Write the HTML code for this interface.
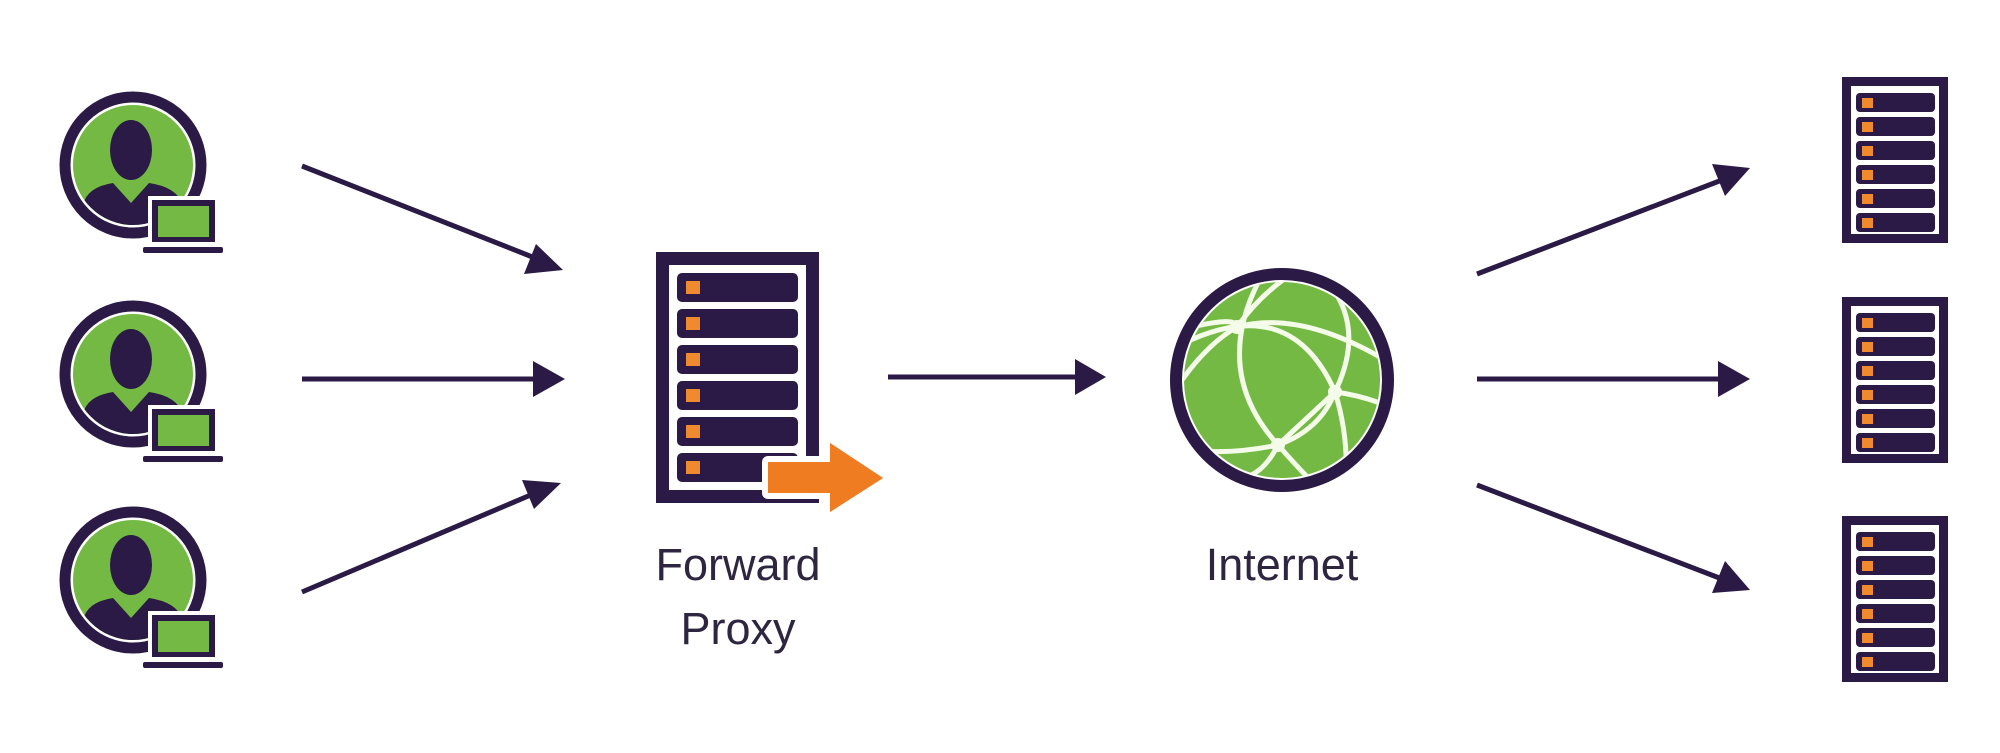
<!DOCTYPE html>
<html><head><meta charset="utf-8"><style>
html,body{margin:0;padding:0;background:#fff;}
svg{display:block;}
text{font-family:"Liberation Sans",sans-serif;fill:#2e2640;}
</style></head><body>
<svg width="2000" height="753" viewBox="0 0 2000 753" xmlns="http://www.w3.org/2000/svg">
<defs>
  <clipPath id="uc"><circle cx="0" cy="0" r="60"/></clipPath>
  <g id="user">
    <circle cx="0" cy="0" r="68" fill="none" stroke="#2a1a45" stroke-width="11"/>
    <circle cx="0" cy="0" r="60" fill="#74b944"/>
    <g clip-path="url(#uc)">
      <path d="M-50,70 L-50,40 Q-46,22 -20,18 L-2,38 L16,18 Q44,22 50,40 L50,70 Z" fill="#2a1a45"/>
    </g>
    <ellipse cx="-2" cy="-15" rx="21" ry="30" fill="#2a1a45"/>
    <rect x="15" y="31" width="71" height="50" fill="#fff"/>
    <rect x="19" y="35" width="63" height="42" fill="#2a1a45"/>
    <rect x="25" y="41" width="51" height="31" fill="#74b944"/>
    <rect x="6" y="79" width="88" height="12" fill="#fff"/>
    <rect x="10" y="82" width="80" height="6" rx="2" fill="#2a1a45"/>
  </g>
  <g id="srv">
    <rect x="0" y="0" width="106" height="166" fill="#2a1a45"/>
    <rect x="9" y="9" width="88" height="148" fill="#fff"/>
    <g fill="#2a1a45">
      <rect x="14" y="16" width="79" height="19" rx="4"/>
      <rect x="14" y="40" width="79" height="19" rx="4"/>
      <rect x="14" y="64" width="79" height="19" rx="4"/>
      <rect x="14" y="88" width="79" height="19" rx="4"/>
      <rect x="14" y="112" width="79" height="19" rx="4"/>
      <rect x="14" y="136" width="79" height="19" rx="4"/>
    </g>
    <g fill="#f08a2e">
      <rect x="20" y="21" width="11" height="10"/>
      <rect x="20" y="45" width="11" height="10"/>
      <rect x="20" y="69" width="11" height="10"/>
      <rect x="20" y="93" width="11" height="10"/>
      <rect x="20" y="117" width="11" height="10"/>
      <rect x="20" y="141" width="11" height="10"/>
    </g>
  </g>
  <clipPath id="gc"><circle cx="1282" cy="380" r="98"/></clipPath>
</defs>

<!-- users -->
<use href="#user" x="133" y="165"/>
<use href="#user" x="133" y="374"/>
<use href="#user" x="133" y="580"/>

<!-- arrows -->
<g stroke="#2a1a45" stroke-width="5" fill="#2a1a45">
  <line x1="302" y1="166" x2="535" y2="258"/>
  <polygon points="563,270 524,274 536,244" stroke="none"/>
  <line x1="302" y1="379" x2="535" y2="379"/>
  <polygon points="565,379 533,361 533,397" stroke="none"/>
  <line x1="302" y1="592" x2="533" y2="494"/>
  <polygon points="561,483 534,509 522,480" stroke="none"/>

  <line x1="888" y1="377" x2="1078" y2="377"/>
  <polygon points="1106,377 1075,359 1075,395" stroke="none"/>

  <line x1="1477" y1="274" x2="1722" y2="180"/>
  <polygon points="1750,168 1725,196 1712,164" stroke="none"/>
  <line x1="1477" y1="379" x2="1720" y2="379"/>
  <polygon points="1750,379 1718,361 1718,397" stroke="none"/>
  <line x1="1477" y1="485" x2="1722" y2="579"/>
  <polygon points="1750,590 1712,593 1725,561" stroke="none"/>
</g>

<!-- proxy server -->
<rect x="656" y="252" width="163" height="251" fill="#2a1a45"/>
<rect x="669" y="265" width="137" height="225" fill="#fff"/>
<g fill="#2a1a45">
  <rect x="677" y="273" width="121" height="29" rx="5"/>
  <rect x="677" y="309" width="121" height="29" rx="5"/>
  <rect x="677" y="345" width="121" height="29" rx="5"/>
  <rect x="677" y="381" width="121" height="29" rx="5"/>
  <rect x="677" y="417" width="121" height="29" rx="5"/>
  <rect x="677" y="453" width="121" height="29" rx="5"/>
</g>
<g fill="#f08a2e">
  <rect x="686" y="281" width="14" height="13"/>
  <rect x="686" y="317" width="14" height="13"/>
  <rect x="686" y="353" width="14" height="13"/>
  <rect x="686" y="389" width="14" height="13"/>
  <rect x="686" y="425" width="14" height="13"/>
  <rect x="686" y="461" width="14" height="13"/>
</g>
<!-- orange arrow with white outline -->
<path d="M768,462 L830,462 L830,443 L883,478 L830,512 L830,493 L768,493 Z" fill="#f07c22" stroke="#fff" stroke-width="12" stroke-linejoin="round" paint-order="stroke"/>
<path d="M768,462 L830,462 L830,443 L883,478 L830,512 L830,493 L768,493 Z" fill="#f07c22"/>

<!-- globe -->
<circle cx="1282" cy="380" r="106" fill="none" stroke="#2a1a45" stroke-width="12"/>
<circle cx="1282" cy="380" r="98" fill="#74b944"/>
<g clip-path="url(#gc)" stroke="#f4fbe8" stroke-width="5" fill="none">
  <path d="M1262,275 Q1210,370 1278,445 Q1300,470 1320,490"/>
  <path d="M1180,345 Q1290,290 1335,392 Q1350,440 1345,490"/>
  <path d="M1180,330 Q1237,315 1237,327 Q1300,310 1385,360"/>
  <path d="M1190,450 Q1230,455 1278,445 Q1320,430 1335,392 Q1365,330 1330,285"/>
  <path d="M1175,390 Q1205,345 1237,327 Q1260,295 1290,275"/>
  <path d="M1278,445 Q1305,420 1335,392 Q1360,395 1385,405"/>
  <path d="M1200,465 Q1250,500 1278,445"/>
</g>
<g fill="#f4fbe8">
  <circle cx="1237" cy="327" r="7"/>
  <circle cx="1335" cy="392" r="7"/>
  <circle cx="1278" cy="445" r="7"/>
</g>

<!-- destination servers -->
<use href="#srv" x="1842" y="77"/>
<use href="#srv" x="1842" y="297"/>
<use href="#srv" x="1842" y="516"/>

<!-- labels -->
<text x="738" y="580" font-size="45" text-anchor="middle">Forward</text>
<text x="738" y="644" font-size="45" text-anchor="middle">Proxy</text>
<text x="1282" y="580" font-size="45" text-anchor="middle">Internet</text>
</svg>
</body></html>
